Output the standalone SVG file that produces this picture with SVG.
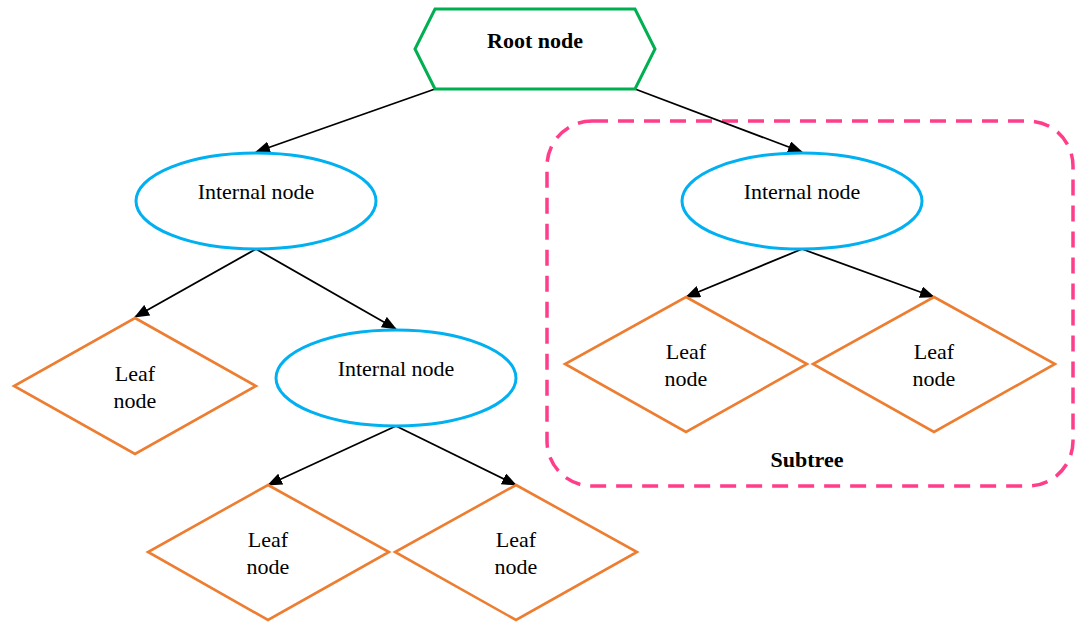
<svg xmlns="http://www.w3.org/2000/svg" width="1085" height="622" viewBox="0 0 1085 622">
  <style>
    .lbl { font-family: "Liberation Serif", "Times New Roman", serif; font-size: 22px; fill: #000; text-anchor: middle; }
    .bold { font-weight: bold; }
    .root { fill: #fff; stroke: #00B050; stroke-width: 3; }
    .inner { fill: #fff; stroke: #00B0F0; stroke-width: 3; }
    .leaf { fill: #fff; stroke: #ED7D31; stroke-width: 2.6; }
    .edge { fill: none; stroke: #000; stroke-width: 1.8; marker-end: url(#arrow); }
    .group { fill: none; stroke: #FF3D8B; stroke-width: 3.5; stroke-dasharray: 16 10; }
  </style>
  <defs>
    <marker id="arrow" markerUnits="userSpaceOnUse" markerWidth="15" markerHeight="12" viewBox="0 0 15 12" refX="14" refY="6" orient="auto">
      <path d="M0,0 L15,6 L0,12 Z" fill="#000"/>
    </marker>
  </defs>

  <rect width="1085" height="622" fill="#fff"/>

  <!-- subtree frame -->
  <g id="subtree">
    <rect class="group" x="547" y="121" width="526" height="365" rx="45" ry="45"/>
    <text class="lbl bold" x="807" y="467">Subtree</text>
  </g>

  <!-- connectors -->
  <g id="edges">
    <line class="edge" x1="435" y1="89" x2="256" y2="152"/>
    <line class="edge" x1="635" y1="89" x2="802" y2="152"/>
    <line class="edge" x1="256" y1="249" x2="135" y2="317"/>
    <line class="edge" x1="256" y1="249" x2="396" y2="329"/>
    <line class="edge" x1="396" y1="426" x2="268" y2="485"/>
    <line class="edge" x1="396" y1="426" x2="516" y2="485"/>
    <line class="edge" x1="802" y1="249" x2="686" y2="297"/>
    <line class="edge" x1="802" y1="249" x2="934" y2="297"/>
  </g>

  <!-- root -->
  <g id="root-node">
    <polygon class="root" points="435,9 635,9 655,49 635,89 435,89 415,49"/>
    <text class="lbl bold" x="535" y="48">Root node</text>
  </g>

  <!-- internal nodes -->
  <g id="internal-left">
    <ellipse class="inner" cx="256" cy="201" rx="120" ry="48"/>
    <text class="lbl" x="256" y="199">Internal node</text>
  </g>
  <g id="internal-middle">
    <ellipse class="inner" cx="396" cy="378" rx="120" ry="48"/>
    <text class="lbl" x="396" y="376">Internal node</text>
  </g>
  <g id="internal-right">
    <ellipse class="inner" cx="802" cy="201" rx="120" ry="48"/>
    <text class="lbl" x="802" y="199">Internal node</text>
  </g>

  <!-- leaf nodes -->
  <g id="leaf-1">
    <polygon class="leaf" points="135,318 256,386 135,454 14,386"/>
    <text class="lbl" x="135" y="381">Leaf</text>
    <text class="lbl" x="135" y="408">node</text>
  </g>
  <g id="leaf-2">
    <polygon class="leaf" points="268,485 389,552 268,620 148,552"/>
    <text class="lbl" x="268" y="547">Leaf</text>
    <text class="lbl" x="268" y="574">node</text>
  </g>
  <g id="leaf-3">
    <polygon class="leaf" points="516,485 637,552 516,620 395,552"/>
    <text class="lbl" x="516" y="547">Leaf</text>
    <text class="lbl" x="516" y="574">node</text>
  </g>
  <g id="leaf-4">
    <polygon class="leaf" points="686,297 807,364 686,432 565,364"/>
    <text class="lbl" x="686" y="359">Leaf</text>
    <text class="lbl" x="686" y="386">node</text>
  </g>
  <g id="leaf-5">
    <polygon class="leaf" points="934,297 1055,364 934,432 813,364"/>
    <text class="lbl" x="934" y="359">Leaf</text>
    <text class="lbl" x="934" y="386">node</text>
  </g>
</svg>
